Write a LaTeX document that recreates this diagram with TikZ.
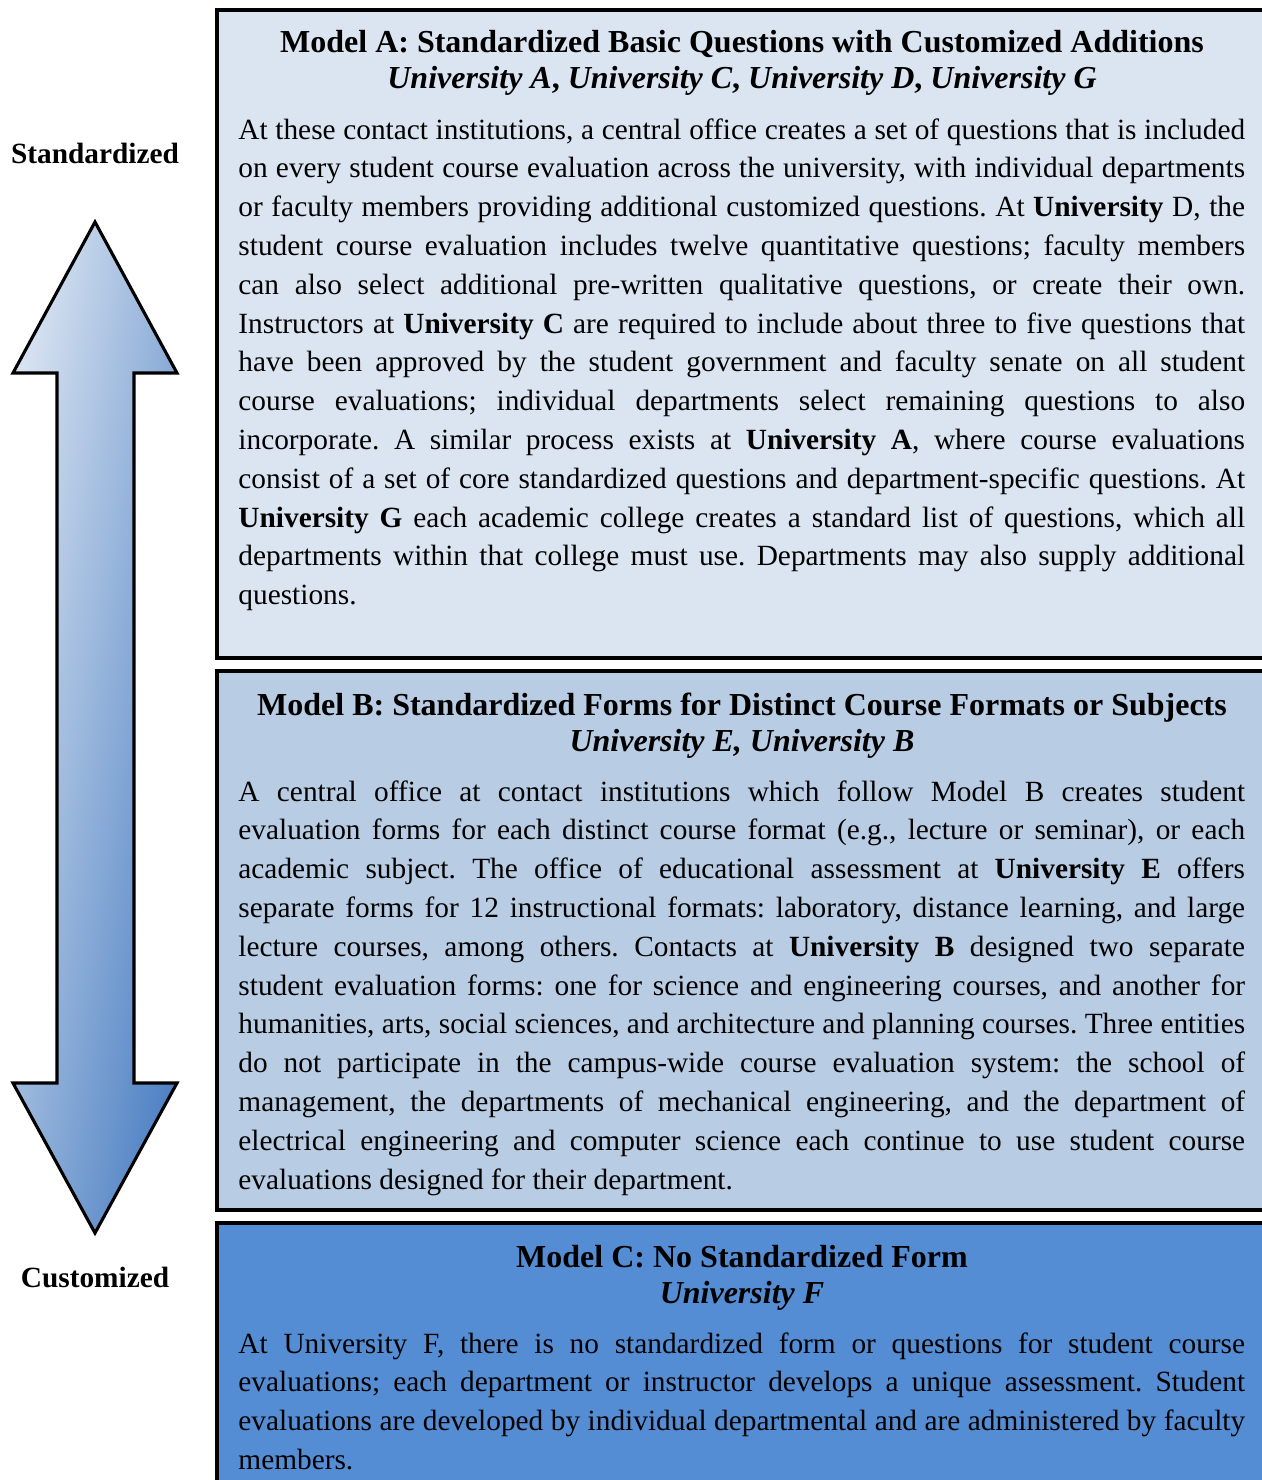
\documentclass[tikz,border=0pt]{standalone}
\usepackage{fontspec}
\setmainfont{Liberation Serif}
\definecolor{modelA}{HTML}{DBE5F1}
\definecolor{modelB}{HTML}{B8CCE4}
\definecolor{modelC}{HTML}{548DD4}
\definecolor{arrowlight}{HTML}{DEE7F3}
\definecolor{arrowdark}{HTML}{4A7EC2}

\begin{document}
\begin{tikzpicture}[x=0.45pt,y=-0.45pt,
    modelbox/.style={draw=black,line width=1.8pt},
    heading/.style={anchor=base,align=center,inner sep=0pt,font=\bfseries\fontsize{14.4}{16.2}\selectfont},
    bodytext/.style={anchor=base west,inner sep=0pt,text width=453pt,align=justify,font=\frenchspacing\fontsize{13.2}{17.46}\selectfont},
    sidelabel/.style={inner sep=0pt,font=\bfseries\fontsize{13.2}{14}\selectfont}]
    \useasboundingbox (0,0) rectangle (1262,1480);
    \clip (0,0) rectangle (1262,1480);

    \path[draw=black,line width=1.4pt,line join=miter,top color=arrowlight,bottom color=arrowdark,shading angle=81]
      (95,222) -- (177,373) -- (134,373) -- (134,1083) -- (177,1083) -- (95,1233)
      -- (13,1083) -- (57,1083) -- (57,373) -- (13,373) -- cycle;
    \node[sidelabel] (std) at (95,153) {Standardized};
    \node[sidelabel] (cust) at (95,1277) {Customized};

    \draw[modelbox,fill=modelA] (217,10) rectangle (1266,658);
    \node[heading] (ta) at (742,88) {Model A: Standardized Basic Questions with Customized Additions\\
      \textit{University A}, \textit{University C}, \textit{University D}, \textit{University G}};
    \node[bodytext] (ba) at (238,139) {At these contact institutions, a central office creates a set of questions that is included\linebreak
      on every student course evaluation across the university, with individual departments\linebreak
      or faculty members providing additional customized questions.\ At \textbf{University} D, the\linebreak
      student course evaluation includes twelve quantitative questions; faculty members\linebreak
      can also select additional pre-written qualitative questions, or create their own.\linebreak
      Instructors at \textbf{University C} are required to include about three to five questions that\linebreak
      have been approved by the student government and faculty senate on all student\linebreak
      course evaluations; individual departments select remaining questions to also\linebreak
      incorporate.\ A similar process exists at \textbf{University A}, where course evaluations\linebreak
      consist of a set of core standardized questions and department-specific questions.\ At\linebreak
      \textbf{University G} each academic college creates a standard list of questions, which all\linebreak
      departments within that college must use. Departments may also supply additional\linebreak
      questions.};

    \draw[modelbox,fill=modelB] (217,671) rectangle (1266,1210);
    \node[heading] (tb) at (742,751) {Model B: Standardized Forms for Distinct Course Formats or Subjects\\
      \textit{University E, University B}};
    \node[bodytext] (bb) at (238,801) {A central office at contact institutions which follow Model B creates student\linebreak
      evaluation forms for each distinct course format (e.g., lecture or seminar), or each\linebreak
      academic subject. The office of educational assessment at \textbf{University E} offers\linebreak
      separate forms for 12 instructional formats: laboratory, distance learning, and large\linebreak
      lecture courses, among others. Contacts at \textbf{University B} designed two separate\linebreak
      student evaluation forms: one for science and engineering courses, and another for\linebreak
      humanities, arts, social sciences, and architecture and planning courses. Three entities\linebreak
      do not participate in the campus-wide course evaluation system: the school of\linebreak
      management, the departments of mechanical engineering, and the department of\linebreak
      electrical engineering and computer science each continue to use student course\linebreak
      evaluations designed for their department.};

    \draw[modelbox,fill=modelC] (217,1223) rectangle (1266,1520);
    \node[heading] (tc) at (742,1303) {Model C: No Standardized Form\\
      \textit{University F}};
    \node[bodytext] (bc) at (238,1353) {At University F, there is no standardized form or questions for student course\linebreak
      evaluations; each department or instructor develops a unique assessment. Student\linebreak
      evaluations are developed by individual departmental and are administered by faculty\linebreak
      members.};
\end{tikzpicture}
\end{document}
